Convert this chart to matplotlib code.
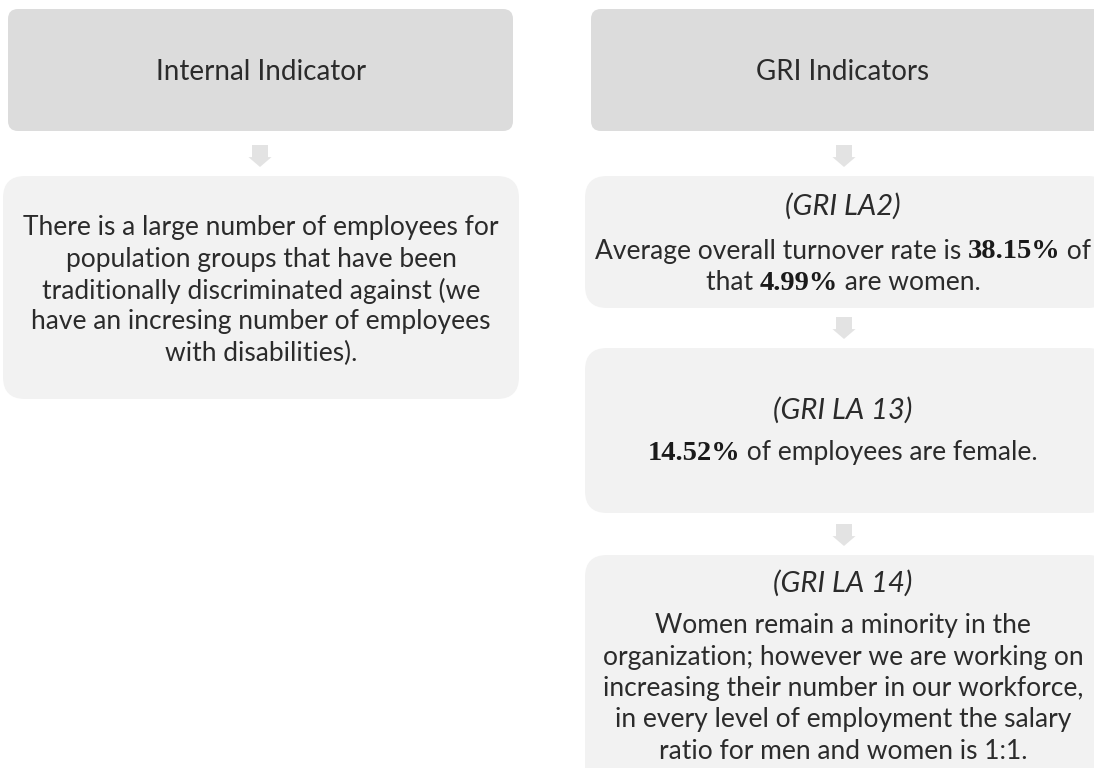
import matplotlib
matplotlib.use('Agg')
import matplotlib.pyplot as plt
from matplotlib.patches import FancyBboxPatch, Polygon

W, H = 1094, 768
plt.rcParams['font.family'] = ['Lato', 'DejaVu Sans']

# texts of the diagram
left_header = 'Internal Indicator'
left_body = ['There is a large number of employees for',
             'population groups that have been',
             'traditionally discriminated against (we',
             'have an incresing number of employees',
             'with disabilities).']
right_header = 'GRI Indicators'
gri_codes = ['(GRI LA2)', '(GRI LA 13)', '(GRI LA 14)']
# each body is a list of lines, each line a list of (text, is_number)
gri_bodies = [
    [[('Average overall turnover rate is ', False), ('38.15%', True), (' of', False)],
     [('that ', False), ('4.99%', True), (' are women.', False)]],
    [[('14.52%', True), (' of employees are female.', False)]],
    [[('Women remain a minority in the', False)],
     [('organization; however we are working on', False)],
     [('increasing their number in our workforce,', False)],
     [('in every level of employment the salary', False)],
     [('ratio for men and women is 1:1.', False)]],
]

header_col = '#dcdcdc'
body_col = '#f2f2f2'
arrow_col = '#e3e3e3'
text_col = '#2b2b2b'
FS = 19

fig = plt.figure(figsize=(W / 100, H / 100), dpi=100)
ax = fig.add_axes([0, 0, 1, 1])
ax.set_xlim(0, W)
ax.set_ylim(H, 0)
ax.axis('off')


def box(x0, y0, x1, y1, color, r):
    ax.add_patch(FancyBboxPatch((x0, y0), x1 - x0, y1 - y0,
                                boxstyle='round,pad=0,rounding_size=%d' % r,
                                fc=color, ec='none'))


def arrow(xc, y0, y1):
    sw, hw = 8, 11.5
    ym = y0 + (y1 - y0) * 0.55
    pts = [(xc - sw, y0), (xc + sw, y0), (xc + sw, ym), (xc + hw, ym),
           (xc, y1), (xc - hw, ym), (xc - sw, ym)]
    ax.add_patch(Polygon(pts, closed=True, fc=arrow_col, ec='none'))


renderer = fig.canvas.get_renderer()


def rich_line(xc, y, parts, size=FS):
    # centred line; numbers are set in a bold serif
    texts = []
    for s, num in parts:
        if num:
            t = ax.text(0, y, s, fontsize=size + 1.5, fontweight='bold',
                        family=['Liberation Serif'], color='#1a1a1a',
                        va='center_baseline', ha='left')
        else:
            t = ax.text(0, y, s, fontsize=size, color=text_col,
                        va='center_baseline', ha='left')
        texts.append(t)
    widths = [t.get_window_extent(renderer).width for t in texts]
    x = xc - sum(widths) / 2
    for t, w in zip(texts, widths):
        t.set_x(x)
        x += w


# left column
box(8, 9, 513, 131, header_col, 10)
ax.text(261, 70, left_header, fontsize=FS + 1, color=text_col, ha='center',
        va='center_baseline')
arrow(260, 145, 167)
box(3, 176, 519, 399, body_col, 22)
for i, line in enumerate(left_body):
    ax.text(261, 225 + i * 31.5, line, fontsize=FS, color=text_col,
            ha='center', va='center_baseline')

# right column (boxes run past the right edge)
box(591, 9, 1110, 131, header_col, 10)
ax.text(843, 70, right_header, fontsize=FS + 1, color=text_col, ha='center',
        va='center_baseline')

right_boxes = [(176, 308), (348, 513), (555, 790)]
code_y = [204, 408, 581]
first_line_y = [249, 450, 623]
arrows_y = [(145, 167), (317, 339), (524, 546)]
for (y0, y1), (a0, a1), code, cy, ly, lines in zip(right_boxes, arrows_y, gri_codes,
                                                   code_y, first_line_y, gri_bodies):
    arrow(844, a0, a1)
    box(585, y0, 1110, y1, body_col, 22)
    ax.text(843, cy, code, fontsize=21, style='italic', color=text_col,
            ha='center', va='center_baseline')
    for i, parts in enumerate(lines):
        rich_line(843, ly + i * 31.5, parts)

fig.savefig('out.png', dpi=100)
